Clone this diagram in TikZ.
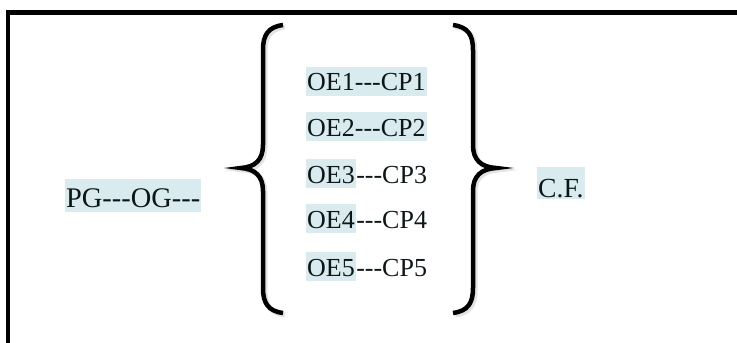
\documentclass[tikz,border=0pt]{standalone}
\usepackage{fontspec}
\setmainfont{Liberation Serif}
\definecolor{hlblue}{RGB}{217,235,239}
\definecolor{inkdark}{RGB}{12,22,24}
\definecolor{shade}{RGB}{200,200,200}
\newcommand\hyps{\mbox{-}\mbox{-}\mbox{-}}
\begin{document}
\begin{tikzpicture}[x=1pt,y=-1pt,
  txt/.style={inner xsep=1pt,inner ysep=0pt,text height=24pt,text depth=5pt,text=inkdark,font=\fontsize{26}{26}\selectfont},
  big/.style={font=\fontsize{27.6}{28}\selectfont},
  bigger/.style={font=\fontsize{28.4}{29}\selectfont},
  hl/.style={txt,fill=hlblue},
  bracestyle/.style={line width=4.5pt,line cap=butt},
  brshadow/.style={line width=5pt,draw=shade,opacity=0.5}]
\useasboundingbox (0,0) rectangle (737,343);
\begin{scope}
\clip (0,0) rectangle (737,343);
\draw[line width=4.5pt] (8,365) -- (8,12.5) -- (760,12.5);
\end{scope}
% braces (shadow then stroke)
\foreach \dx/\st in {2/brshadow,0/bracestyle}{
  \draw[\st,xshift=\dx,yshift=-\dx] (283,25) .. controls (268,27) and (263,35) .. (263,50)
    -- (263,145) .. controls (263,160) and (255,167) .. (241,168)
    .. controls (255,169) and (263,176) .. (263,191)
    -- (263,288) .. controls (263,303) and (268,311) .. (283,313);
  \draw[\st,xshift=\dx,yshift=-\dx] (453,25) .. controls (468,27) and (473,35) .. (473,50)
    -- (473,145) .. controls (473,160) and (481,167) .. (496,168)
    .. controls (481,169) and (473,176) .. (473,191)
    -- (473,288) .. controls (473,303) and (468,311) .. (453,313);
}
% left text
\node[hl,bigger,anchor=base west,text height=28pt] (pg) at (65,207) {PG\hyps OG\hyps};
% rows
\node[hl,anchor=base west] (r1) at (306,90.5) {OE1\hyps CP1};
\node[hl,anchor=base west] (r2) at (306,136) {OE2\hyps CP2};
\node[hl,anchor=base west] (r3a) at (306,183) {OE3};
\node[txt,anchor=base west,inner xsep=0pt] (r3b) at (r3a.base east) {\hyps CP3};
\node[hl,anchor=base west] (r4a) at (306,228) {OE4};
\node[txt,anchor=base west,inner xsep=0pt] (r4b) at (r4a.base east) {\hyps CP4};
\node[hl,anchor=base west] (r5a) at (306,276) {OE5};
\node[txt,anchor=base west,inner xsep=0pt] (r5b) at (r5a.base east) {\hyps CP5};
% right text
\node[hl,big,anchor=base west,text height=30pt,text depth=2pt] (cf) at (537,197) {C.F.};
\end{tikzpicture}
\end{document}
